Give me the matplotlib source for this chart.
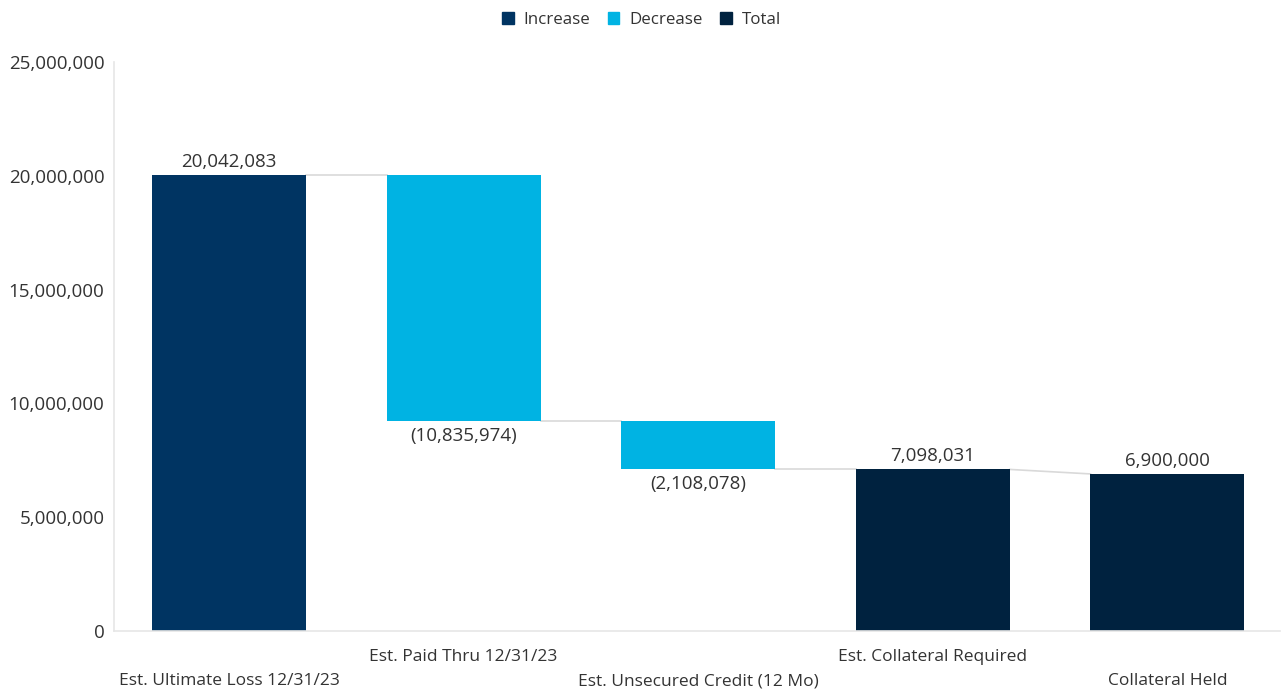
import matplotlib
matplotlib.use("Agg")
import matplotlib.pyplot as plt
from matplotlib.patches import Patch

categories = ["Est. Ultimate Loss 12/31/23", "Est. Paid Thru 12/31/23",
              "Est. Unsecured Credit (12 Mo)", "Est. Collateral Required",
              "Collateral Held"]
values = [20042083, -10835974, -2108078, 7098031, 6900000]
kinds = ["increase", "decrease", "decrease", "total", "total"]

colors = {"increase": "#003462", "decrease": "#00B3E3", "total": "#00223F"}
text_color = "#333333"
line_color = "#d9d9d9"

plt.rcParams["font.family"] = ["Open Sans", "DejaVu Sans"]

fig = plt.figure(figsize=(12.83, 6.92), dpi=100)
ax = fig.add_axes([0.0889, 0.0882, 0.9088, 0.8222])

width = 0.656
bottoms, tops = [], []
cum = 0
for v, k in zip(values, kinds):
    if k == "total":
        b, t = 0, v
        cum = v
    else:
        b, t = (cum, cum + v) if v >= 0 else (cum + v, cum)
        cum += v
    bottoms.append(b)
    tops.append(t)

for i, (b, t, k) in enumerate(zip(bottoms, tops, kinds)):
    ax.bar(i, t - b, bottom=b, width=width, color=colors[k], zorder=2)

# connector lines: end of one step to start of the next
ends = []
cum = 0
for v, k in zip(values, kinds):
    cum = v if k == "total" else cum + v
    ends.append(cum)
for i in range(len(values) - 1):
    nxt = tops[i + 1] if kinds[i + 1] == "total" else ends[i]
    ax.plot([i + width / 2, i + 1 - width / 2], [ends[i], nxt],
            color=line_color, lw=1.2, zorder=1)

# value labels
for i, (v, b, t) in enumerate(zip(values, bottoms, tops)):
    if v >= 0:
        ax.annotate(f"{v:,}", (i, t), xytext=(0, 3), textcoords="offset points",
                    ha="center", va="bottom", fontsize=13.5, color=text_color)
    else:
        ax.annotate(f"({-v:,})", (i, b), xytext=(0, -4), textcoords="offset points",
                    ha="center", va="top", fontsize=13.5, color=text_color)

ax.set_xlim(-0.49, 4.48)
ax.set_ylim(0, 25000000)
ax.set_yticks(range(0, 25000001, 5000000))
ax.set_yticklabels([f"{t:,}" for t in range(0, 25000001, 5000000)],
                   fontsize=13.5, color=text_color)
ax.tick_params(axis="y", length=0, pad=7)
ax.tick_params(axis="x", length=0)
ax.set_xticks(range(len(categories)))
ax.set_xticklabels([])
for i, c in enumerate(categories):
    y_off = -0.046 if i % 2 else -0.088
    ax.text(i, y_off, c, transform=ax.get_xaxis_transform(), ha="center",
            va="center", fontsize=12.5, color=text_color)

for s in ["top", "right"]:
    ax.spines[s].set_visible(False)
for s in ["left", "bottom"]:
    ax.spines[s].set_color("#e6e6e6")
    ax.spines[s].set_linewidth(1.2)

handles = [Patch(color=colors["increase"], label="Increase"),
           Patch(color=colors["decrease"], label="Decrease"),
           Patch(color=colors["total"], label="Total")]
fig.legend(handles=handles, loc="upper center", bbox_to_anchor=(0.5, 1.005),
           ncol=3, frameon=False, fontsize=12.2, handlelength=0.7,
           handleheight=0.7, handletextpad=0.6, columnspacing=1.0,
           labelcolor=text_color)

fig.savefig("out.png", dpi=100)
